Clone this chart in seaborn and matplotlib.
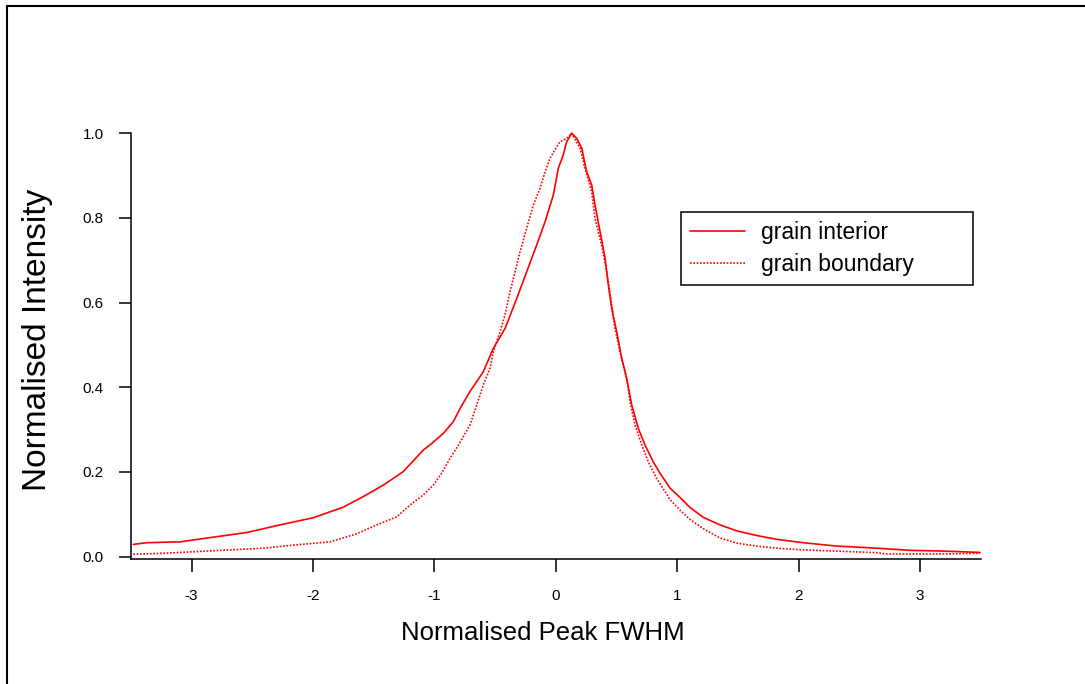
import numpy as np
import pandas as pd
import matplotlib
matplotlib.use("Agg")
import matplotlib.pyplot as plt
from matplotlib.lines import Line2D
import seaborn as sns

# ---- data ----
interior_x = [-3.479, -3.369, -3.095, -2.823, -2.546, -2.272, -1.997, -1.750, -1.585, -1.421,
              -1.256, -1.091, -1.036, -0.927, -0.844, -0.789, -0.707, -0.597, -0.515, -0.418,
              -0.322, -0.240, -0.158, -0.089, -0.021, 0.020, 0.061, 0.089, 0.130, 0.172,
              0.213, 0.254, 0.295, 0.322, 0.364, 0.405, 0.432, 0.460, 0.501, 0.542,
              0.583, 0.625, 0.679, 0.734, 0.802, 0.858, 0.940, 1.022, 1.105, 1.214,
              1.352, 1.489, 1.654, 1.818, 2.037, 2.312, 2.587, 2.916, 3.218, 3.492]
interior_y = [0.029, 0.033, 0.035, 0.046, 0.057, 0.075, 0.092, 0.117, 0.142, 0.169,
              0.201, 0.252, 0.264, 0.291, 0.319, 0.350, 0.390, 0.437, 0.492, 0.539,
              0.610, 0.673, 0.736, 0.791, 0.854, 0.917, 0.949, 0.980, 1.000, 0.988,
              0.965, 0.909, 0.878, 0.831, 0.768, 0.705, 0.642, 0.587, 0.531, 0.469,
              0.421, 0.358, 0.303, 0.264, 0.224, 0.197, 0.162, 0.140, 0.116, 0.093,
              0.075, 0.061, 0.050, 0.041, 0.033, 0.025, 0.021, 0.015, 0.013, 0.010]

boundary_x = [-3.479, -3.232, -2.957, -2.683, -2.409, -2.134, -1.860, -1.640, -1.475, -1.310,
              -1.201, -1.091, -1.009, -0.940, -0.872, -0.797, -0.707, -0.652, -0.597, -0.542,
              -0.515, -0.460, -0.419, -0.377, -0.336, -0.295, -0.240, -0.185, -0.130, -0.089,
              -0.048, -0.007, 0.034, 0.089, 0.130, 0.199, 0.240, 0.295, 0.322, 0.377,
              0.419, 0.460, 0.487, 0.528, 0.583, 0.611, 0.652, 0.707, 0.761, 0.830,
              0.940, 1.022, 1.105, 1.214, 1.352, 1.489, 1.654, 1.818, 2.037, 2.312,
              2.642, 2.724, 3.136, 3.492]
boundary_y = [0.006, 0.008, 0.012, 0.016, 0.020, 0.028, 0.035, 0.054, 0.075, 0.094,
              0.122, 0.146, 0.169, 0.197, 0.232, 0.266, 0.311, 0.358, 0.406, 0.445,
              0.484, 0.531, 0.571, 0.626, 0.673, 0.720, 0.776, 0.831, 0.870, 0.909,
              0.941, 0.961, 0.980, 0.988, 1.000, 0.965, 0.917, 0.862, 0.799, 0.736,
              0.673, 0.594, 0.539, 0.484, 0.421, 0.366, 0.311, 0.264, 0.224, 0.185,
              0.135, 0.110, 0.088, 0.066, 0.044, 0.032, 0.025, 0.020, 0.016, 0.013,
              0.0095, 0.0064, 0.0064, 0.008]

x_ticks = [-3, -2, -1, 0, 1, 2, 3]
y_ticks = [0.0, 0.2, 0.4, 0.6, 0.8, 1.0]
series_names = ["grain interior", "grain boundary"]

df_int = pd.DataFrame({"x": interior_x, "y": interior_y})
df_bnd = pd.DataFrame({"x": boundary_x, "y": boundary_y})

# ---- styling ----
sns.set_style("ticks")
plt.rcParams["font.family"] = ["Liberation Sans", "DejaVu Sans"]
plt.rcParams["text.color"] = "black"

W, H = 1085, 684
fig = plt.figure(figsize=(W / 100, H / 100), dpi=100)
ax_left, ax_right, ax_top, ax_bot = 130.8, 980.9, 133.3, 559.0
ax = fig.add_axes([ax_left / W, 1 - ax_bot / H, (ax_right - ax_left) / W, (ax_bot - ax_top) / H])

sns.lineplot(data=df_int, x="x", y="y", ax=ax, color="#ff0000", lw=1.2,
             estimator=None, sort=False, label=series_names[0], clip_on=False)
sns.lineplot(data=df_bnd, x="x", y="y", ax=ax, color="#ff0000", lw=1.2,
             linestyle=(0, (1, 1)), estimator=None, sort=False,
             label=series_names[1], clip_on=False)

ax.set_xlim(-3.5, 3.5)
ax.set_ylim(-0.0055, 1.0)
ax.set_xticks(x_ticks)
ax.set_xticklabels([str(t) for t in x_ticks])
ax.set_yticks(y_ticks)
ax.set_yticklabels([f"{t:.1f}" for t in y_ticks])

for s in ["top", "right"]:
    ax.spines[s].set_visible(False)
for s in ["left", "bottom"]:
    ax.spines[s].set_linewidth(1.1)
    ax.spines[s].set_color("black")

ax.tick_params(axis="x", direction="out", length=9.5, width=1.1, pad=12,
               labelsize=11, colors="black")
ax.tick_params(axis="y", direction="out", length=8.6, width=1.1, pad=11,
               labelsize=11, colors="black")

ax.set_xlabel("Normalised Peak FWHM", fontsize=18.5, color="black")
ax.xaxis.label.set_va("center")
ax.xaxis.set_label_coords((543 - ax_left) / (ax_right - ax_left), (ax_bot - 633) / (ax_bot - ax_top))

ax.set_ylabel("Normalised Intensity", fontsize=24, color="black")
ax.yaxis.label.set_va("center")
ax.yaxis.set_label_coords((38 - ax_left) / (ax_right - ax_left), (ax_bot - 340) / (ax_bot - ax_top))

# legend
lx0, lx1, ly0, ly1 = 681, 973, 211.7, 287.3
bx = (lx0 - ax_left) / (ax_right - ax_left)
bw = (lx1 - lx0) / (ax_right - ax_left)
by1 = (ax_bot - ly0) / (ax_bot - ax_top)
bh = (ly1 - ly0) / (ax_bot - ax_top)
leg = ax.legend(loc="upper left", bbox_to_anchor=(bx, by1 - bh, bw, bh), mode="expand",
                borderaxespad=0, fontsize=16.5, frameon=True, fancybox=False,
                framealpha=1, edgecolor="black", handlelength=2.4, handletextpad=0.68,
                borderpad=0.4, labelspacing=0.4, labelcolor="black")
leg.get_frame().set_linewidth(1.1)

# figure frame (top and left)
fig.add_artist(Line2D([6.5 / W, 1.0], [1 - 5.5 / H, 1 - 5.5 / H], transform=fig.transFigure,
                      color="black", lw=1.5))
fig.add_artist(Line2D([6.5 / W, 6.5 / W], [0.0, 1 - 5.5 / H], transform=fig.transFigure,
                      color="black", lw=1.5))

fig.savefig("out.png", dpi=100, facecolor="white")
